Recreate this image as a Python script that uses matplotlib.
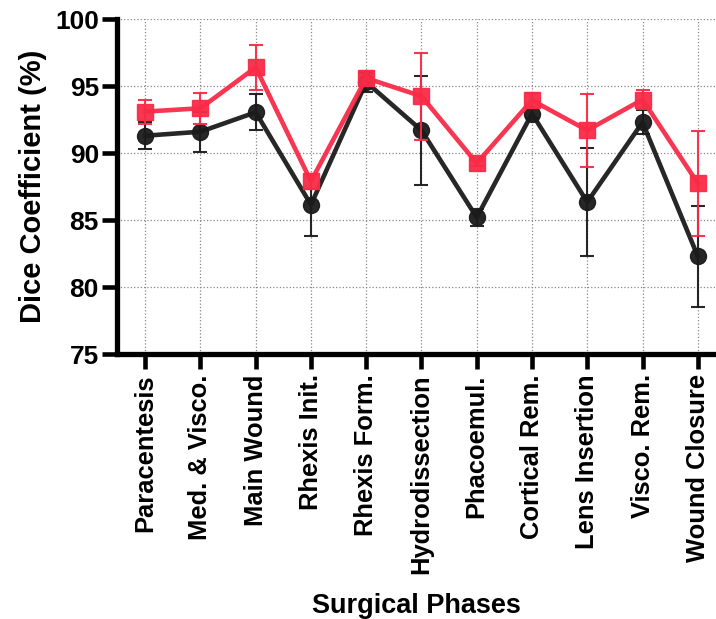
"""
Dice coefficient per surgical phase, two models with error bars.
"""

import numpy as np
import matplotlib.pyplot as plt

phases = ["Paracentesis", "Med. & Visco.", "Main Wound", "Rhexis Init.",
          "Rhexis Form.", "Hydrodissection", "Phacoemul.", "Cortical Rem.",
          "Lens Insertion", "Visco. Rem.", "Wound Closure"]

# red squares
red_mean = [93.1, 93.35, 96.4, 87.9, 95.6, 94.25, 89.25, 93.95, 91.7, 94.0, 87.75]
red_err = [0.9, 1.15, 1.65, 0.55, 0.5, 3.25, 0.2, 0.55, 2.7, 0.7, 3.9]

# black circles
black_mean = [91.3, 91.6, 93.05, 86.15, 95.3, 91.7, 85.2, 92.95, 86.35, 92.3, 82.3]
black_err = [1.0, 1.5, 1.35, 2.3, 0.7, 4.05, 0.65, 0.35, 4.0, 0.9, 3.75]

RED = "#f92b47"
BLACK = "#1b1b1b"

plt.rcParams["font.family"] = ["Liberation Sans", "DejaVu Sans"]
plt.rcParams["font.weight"] = "bold"

fig = plt.figure(figsize=(7.16, 6.19), dpi=100)
ax = fig.add_axes([0.1634, 0.428, 0.8366, 0.541])

x = np.arange(len(phases))

ax.errorbar(x, black_mean, yerr=black_err, color=BLACK, marker="o",
            markersize=11.5, linewidth=3.3, elinewidth=1.5, capsize=5,
            capthick=1.5, zorder=3, alpha=0.95)
ax.errorbar(x, red_mean, yerr=red_err, color=RED, marker="s",
            markersize=11.5, linewidth=3.3, elinewidth=1.5, capsize=5,
            capthick=1.5, zorder=4, alpha=0.95)

ax.set_xlim(-0.51, 10.33)
ax.set_ylim(75, 100)
ax.set_yticks([75, 80, 85, 90, 95, 100])
ax.set_xticks(x)
ax.set_xticklabels(phases, rotation=90, fontsize=18.4, fontweight="bold")
ax.tick_params(axis="y", labelsize=19, pad=2)
ax.tick_params(length=11, width=3.3)

ax.grid(True, linestyle=":", color="#888888", linewidth=0.9)
ax.set_axisbelow(True)

for side in ["top", "right"]:
    ax.spines[side].set_visible(False)
for side in ["left", "bottom"]:
    ax.spines[side].set_linewidth(3.8)

ax.set_ylabel("Dice Coefficient (%)", fontsize=21, fontweight="bold", labelpad=6)
ax.set_xlabel("Surgical Phases", fontsize=19.5, fontweight="bold", labelpad=14)

fig.savefig("out.png", dpi=100)
